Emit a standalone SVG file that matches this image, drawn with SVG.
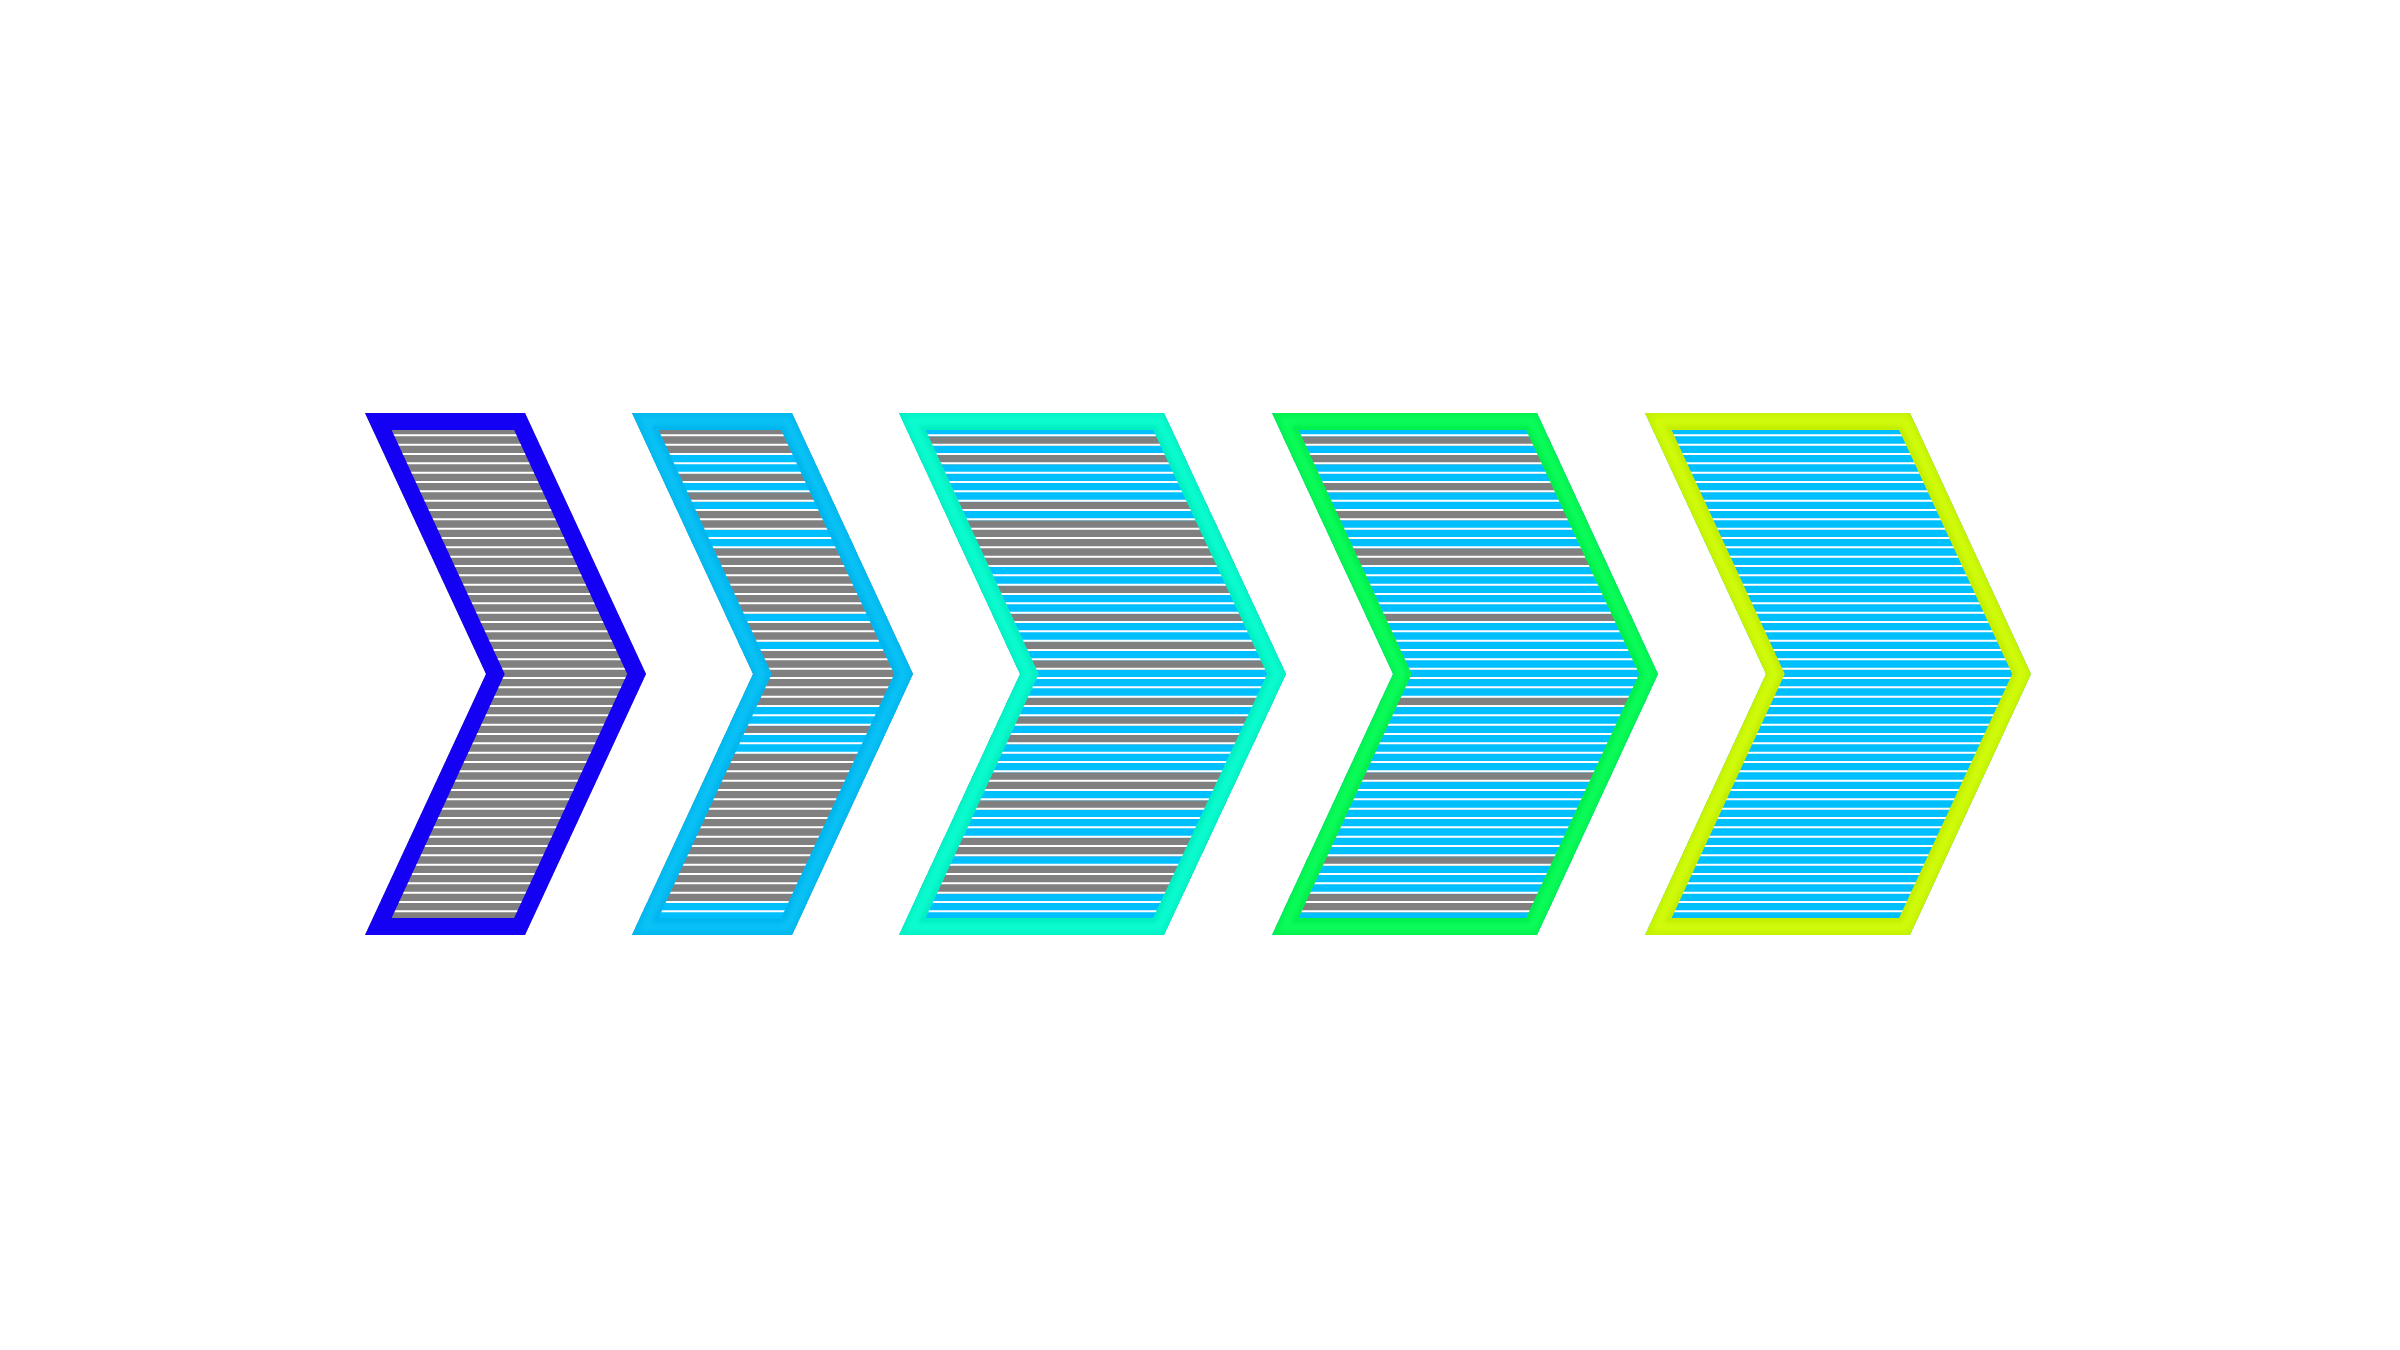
<svg xmlns="http://www.w3.org/2000/svg" width="2400" height="1350" viewBox="0 0 2400 1350">
  <style>
    .bg { fill: #ffffff; }
    .gray { fill: #808080; }
    .blue { fill: #00BFFF; }
    .lines { stroke: #ffffff; stroke-width: 300; stroke-dasharray: 2 7.3333; fill: none; }
    .border { fill: none; stroke-width: 34; stroke-linejoin: miter; stroke-miterlimit: 10; }
    .glow { fill: none; stroke-width: 28; stroke-linejoin: miter; stroke-miterlimit: 10; }
    .mw { fill: none; stroke: #ffffff; stroke-width: 24; stroke-linejoin: miter; stroke-miterlimit: 10; }
    .mb { fill: none; stroke: #000000; stroke-width: 10; stroke-linejoin: miter; stroke-miterlimit: 10; }
  </style>
  <defs>
    <filter id="soft" x="-5%" y="-5%" width="110%" height="110%"><feGaussianBlur stdDeviation="2.5"/></filter>
    <clipPath id="clip1"><polygon points="365,413 525,413 646,674 525,935 365,935 486,674"/></clipPath>
    <clipPath id="clip2"><polygon points="632,413 792,413 913,674 792,935 632,935 753,674"/></clipPath>
    <clipPath id="clip3"><polygon points="899,413 1164,413 1286,674 1164,935 899,935 1020,674"/></clipPath>
    <clipPath id="clip4"><polygon points="1272,413 1537,413 1658,674 1537,935 1272,935 1393,674"/></clipPath>
    <clipPath id="clip5"><polygon points="1645,413 1910,413 2031,674 1910,935 1645,935 1766,674"/></clipPath>
    <mask id="m2" maskUnits="userSpaceOnUse" x="0" y="0" width="2400" height="1350">
      <g filter="url(#soft)">
        <polygon class="mw" points="632,413 792,413 913,674 792,935 632,935 753,674"/>
        <polygon class="mb" points="632,413 792,413 913,674 792,935 632,935 753,674"/>
      </g>
    </mask>
    <mask id="m3" maskUnits="userSpaceOnUse" x="0" y="0" width="2400" height="1350">
      <g filter="url(#soft)">
        <polygon class="mw" points="899,413 1164,413 1286,674 1164,935 899,935 1020,674"/>
        <polygon class="mb" points="899,413 1164,413 1286,674 1164,935 899,935 1020,674"/>
      </g>
    </mask>
    <mask id="m4" maskUnits="userSpaceOnUse" x="0" y="0" width="2400" height="1350">
      <g filter="url(#soft)">
        <polygon class="mw" points="1272,413 1537,413 1658,674 1537,935 1272,935 1393,674"/>
        <polygon class="mb" points="1272,413 1537,413 1658,674 1537,935 1272,935 1393,674"/>
      </g>
    </mask>
    <mask id="m5" maskUnits="userSpaceOnUse" x="0" y="0" width="2400" height="1350">
      <g filter="url(#soft)">
        <polygon class="mw" points="1645,413 1910,413 2031,674 1910,935 1645,935 1766,674"/>
        <polygon class="mb" points="1645,413 1910,413 2031,674 1910,935 1645,935 1766,674"/>
      </g>
    </mask>
  </defs>
  <rect class="bg" x="0" y="0" width="2400" height="1350"/>

  <g id="step1" clip-path="url(#clip1)">
    <rect class="gray" x="360" y="410" width="290" height="530"/>
    <line class="lines" x1="505" y1="434.3333" x2="505" y2="940"/>
    <polygon class="border" stroke="#1400F2" points="365,413 525,413 646,674 525,935 365,935 486,674"/>
  </g>

  <g id="step2" clip-path="url(#clip2)">
    <rect class="gray" x="628" y="410" width="290" height="530"/>
    <rect class="blue" x="628" y="455" width="290" height="18.6667"/>
    <rect class="blue" x="628" y="483" width="290" height="9.3333"/>
    <rect class="blue" x="628" y="501.6667" width="290" height="9.3333"/>
    <rect class="blue" x="628" y="529.6667" width="290" height="18.6667"/>
    <rect class="blue" x="628" y="613.6667" width="290" height="9.3333"/>
    <rect class="blue" x="628" y="641.6667" width="290" height="9.3333"/>
    <rect class="blue" x="628" y="707" width="290" height="18.6667"/>
    <rect class="blue" x="628" y="735" width="290" height="18.6667"/>
    <rect class="blue" x="628" y="903" width="290" height="35"/>
    <line class="lines" x1="772" y1="434.3333" x2="772" y2="940"/>
    <polygon class="border" stroke="#00B6EE" points="632,413 792,413 913,674 792,935 632,935 753,674"/>
    <polygon class="glow" stroke="#0AC2F6" mask="url(#m2)" points="632,413 792,413 913,674 792,935 632,935 753,674"/>
  </g>

  <g id="step3" clip-path="url(#clip3)">
    <rect class="blue" x="895" y="410" width="395" height="530"/>
    <rect class="gray" x="895" y="436.3333" width="395" height="9.3333"/>
    <rect class="gray" x="895" y="455" width="395" height="9.3333"/>
    <rect class="gray" x="895" y="501.6667" width="395" height="9.3333"/>
    <rect class="gray" x="895" y="520.3333" width="395" height="46.6667"/>
    <rect class="gray" x="895" y="585.6667" width="395" height="9.3333"/>
    <rect class="gray" x="895" y="613.6667" width="395" height="9.3333"/>
    <rect class="gray" x="895" y="641.6667" width="395" height="9.3333"/>
    <rect class="gray" x="895" y="660.3333" width="395" height="9.3333"/>
    <rect class="gray" x="895" y="697.6667" width="395" height="9.3333"/>
    <rect class="gray" x="895" y="716.3333" width="395" height="9.3333"/>
    <rect class="gray" x="895" y="735" width="395" height="9.3333"/>
    <rect class="gray" x="895" y="772.3333" width="395" height="18.6667"/>
    <rect class="gray" x="895" y="800.3333" width="395" height="9.3333"/>
    <rect class="gray" x="895" y="837.6667" width="395" height="18.6667"/>
    <rect class="gray" x="895" y="865.6667" width="395" height="28"/>
    <line class="lines" x1="1092" y1="434.3333" x2="1092" y2="940" style="stroke-width:400"/>
    <polygon class="border" stroke="#00F0C4" points="899,413 1164,413 1286,674 1164,935 899,935 1020,674"/>
    <polygon class="glow" stroke="#0CFCD0" mask="url(#m3)" points="899,413 1164,413 1286,674 1164,935 899,935 1020,674"/>
  </g>

  <g id="step4" clip-path="url(#clip4)">
    <rect class="blue" x="1268" y="410" width="395" height="530"/>
    <rect class="gray" x="1268" y="436.3333" width="395" height="9.3333"/>
    <rect class="gray" x="1268" y="455" width="395" height="9.3333"/>
    <rect class="gray" x="1268" y="483" width="395" height="9.3333"/>
    <rect class="gray" x="1268" y="511" width="395" height="9.3333"/>
    <rect class="gray" x="1268" y="548.3333" width="395" height="18.6667"/>
    <rect class="gray" x="1268" y="613.6667" width="395" height="9.3333"/>
    <rect class="gray" x="1268" y="697.6667" width="395" height="9.3333"/>
    <rect class="gray" x="1268" y="772.3333" width="395" height="9.3333"/>
    <rect class="gray" x="1268" y="856.3333" width="395" height="9.3333"/>
    <rect class="gray" x="1268" y="893.6667" width="395" height="18.6667"/>
    <line class="lines" x1="1465" y1="434.3333" x2="1465" y2="940" style="stroke-width:400"/>
    <polygon class="border" stroke="#00F04E" points="1272,413 1537,413 1658,674 1537,935 1272,935 1393,674"/>
    <polygon class="glow" stroke="#0CFC5A" mask="url(#m4)" points="1272,413 1537,413 1658,674 1537,935 1272,935 1393,674"/>
  </g>

  <g id="step5" clip-path="url(#clip5)">
    <rect class="blue" x="1641" y="410" width="395" height="530"/>
    <line class="lines" x1="1838" y1="434.3333" x2="1838" y2="940" style="stroke-width:400"/>
    <polygon class="border" stroke="#C4F000" points="1645,413 1910,413 2031,674 1910,935 1645,935 1766,674"/>
    <polygon class="glow" stroke="#D0FC0C" mask="url(#m5)" points="1645,413 1910,413 2031,674 1910,935 1645,935 1766,674"/>
  </g>

  <g id="connectors"/>
</svg>
